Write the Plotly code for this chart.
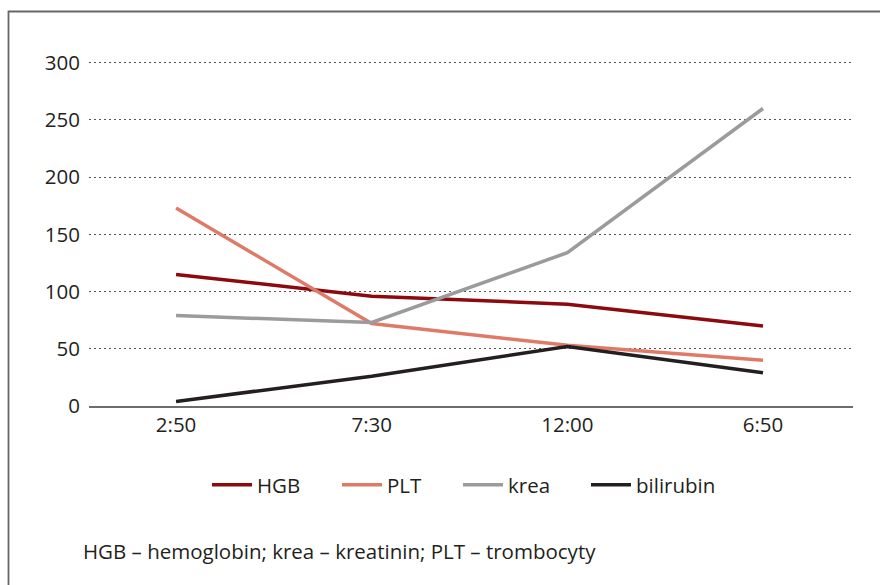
import plotly.graph_objects as go

categories = ["2:50", "7:30", "12:00", "6:50"]
hgb = [115, 96, 89, 70]
plt_vals = [173, 72, 53, 40]
krea = [79, 73, 134, 260]
bilirubin = [4, 26, 52, 29]
y_ticks = [0, 50, 100, 150, 200, 250, 300]
footnote = "HGB – hemoglobin; krea – kreatinin; PLT – trombocyty"

series = [
    ("HGB", hgb, "#8c0a0f"),
    ("PLT", plt_vals, "#e07a68"),
    ("krea", krea, "#9b9b9d"),
    ("bilirubin", bilirubin, "#231f20"),
]

FONT = "Open Sans"
TXT = "#231f20"
FS = 20.5

W, H = 880, 585
L, T = 89, 61
R = W - 853
B = H - 406
PW, PH = W - L - R, H - T - B

def px_x(x):
    return (x - L) / PW

def px_y(y):
    return (H - B - y) / PH

legend_left = [207, 337, 458, 586]  # px
legend_names = ["legend", "legend2", "legend3", "legend4"]

fig = go.Figure()
for (name, vals, color), lg in zip(series, legend_names):
    fig.add_trace(go.Scatter(
        x=list(range(len(categories))), y=vals, name=name, mode="lines",
        line=dict(color=color, width=3.5), cliponaxis=False, legend=lg,
    ))

layout_legends = {}
for lg, lx in zip(legend_names, legend_left):
    layout_legends[lg] = dict(
        orientation="h", x=px_x(lx), xanchor="left", y=px_y(485), yanchor="middle",
        font=dict(family=FONT, size=FS, color=TXT), itemwidth=40,
        bgcolor="rgba(0,0,0,0)", borderwidth=0,
    )

bx, by = px_x(8.5), px_y(11.5)
border_path = f"M {bx},{px_y(H + 20)} L {bx},{by} L {px_x(W + 20)},{by}"

fig.update_layout(
    width=W, height=H,
    margin=dict(l=L, r=R, t=T, b=B),
    paper_bgcolor="white", plot_bgcolor="white",
    font=dict(family=FONT, size=FS, color=TXT),
    showlegend=True,
    xaxis=dict(
        tickmode="array", tickvals=list(range(len(categories))), ticktext=categories,
        range=[-0.445, 3.46], showgrid=False, zeroline=False,
        showline=True, linecolor="#6d6d6d", linewidth=1.5, ticks="",
        tickfont=dict(size=FS, color=TXT), fixedrange=True,
    ),
    yaxis=dict(
        tickmode="array", tickvals=y_ticks, range=[0, 301.5],
        showgrid=True, gridcolor="#555555", griddash="1.5px,3.5px", gridwidth=1,
        zeroline=False, showline=False, ticks="", ticklabelstandoff=8,
        tickfont=dict(size=FS, color=TXT), fixedrange=True,
    ),
    annotations=[dict(
        text=footnote, xref="paper", yref="paper", x=px_x(81), y=px_y(551),
        xanchor="left", yanchor="middle", showarrow=False,
        font=dict(size=FS, color=TXT),
    )],
    shapes=[dict(
        type="path", xref="paper", yref="paper", path=border_path,
        line=dict(color="#666666", width=1.8), layer="below",
    )],
    **layout_legends,
)

fig.write_html(
    "out.html",
    config={"displayModeBar": False},
    post_script="document.body.style.margin='0';"
                "document.documentElement.style.overflow='hidden';"
                "document.body.style.overflow='hidden';",
)
